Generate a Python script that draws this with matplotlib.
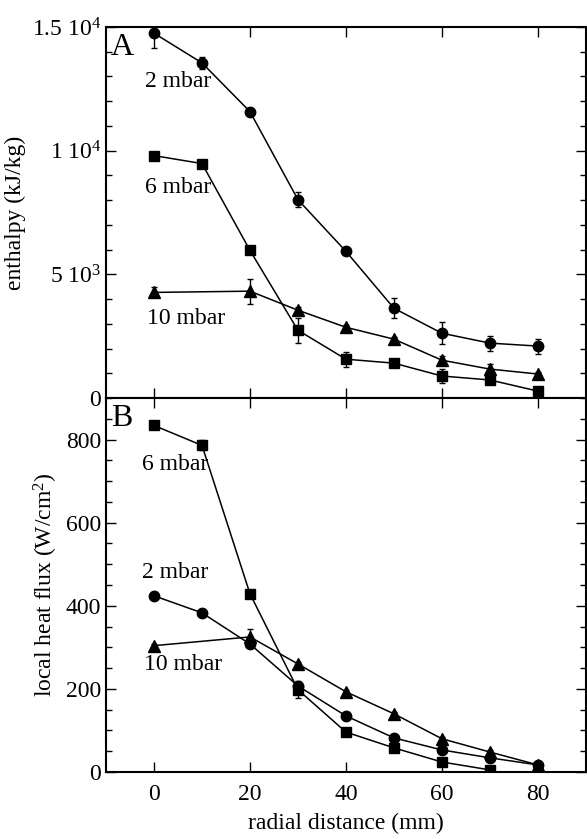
from matplotlib import pyplot as plt
from matplotlib.ticker import MultipleLocator, FixedLocator

# Configure the font
plt.rcParams['font.family'] = ['Liberation Serif', 'DejaVu Serif']
plt.rcParams['mathtext.fontset'] = 'custom'
plt.rcParams['mathtext.rm'] = 'Liberation Serif'
plt.rcParams['mathtext.it'] = 'Liberation Serif:italic'

# radial distance (mm)
x_all = [0, 10, 20, 30, 40, 50, 60, 70, 80]
x_10 = [0, 20, 30, 40, 50, 60, 70, 80]

# panel A: enthalpy (kJ/kg)
h_2 = [14750, 13550, 11580, 8020, 5930, 3630, 2620, 2220, 2100]
h_2_err = [600, 250, 150, 300, 100, 400, 450, 300, 300]
h_6 = [9800, 9480, 5970, 2740, 1570, 1410, 890, 730, 280]
h_6_err = [100, 150, 100, 500, 300, 100, 300, 150, 100]
h_10 = [4270, 4320, 3550, 2860, 2380, 1530, 1170, 970]
h_10_err = [200, 500, 150, 100, 100, 150, 200, 100]

# panel B: local heat flux (W/cm2)
q_2 = [424, 383, 308, 207, 135, 82, 53, 34, 17]
q_2_err = [5, 5, 8, 10, 5, 5, 5, 5, 5]
q_6 = [834, 786, 429, 198, 96, 58, 24, 5]
q_6_err = [5, 12, 8, 20, 5, 5, 5, 5]
q_10 = [304, 325, 260, 193, 140, 80, 48, 17]
q_10_err = [5, 20, 5, 5, 5, 5, 5, 5]

FS = 17


def style_axis(ax):
    for s in ax.spines.values():
        s.set_linewidth(1.5)
    ax.tick_params(which='both', direction='in', top=True, right=True,
                   labelsize=FS, width=1.0)
    ax.tick_params(which='major', length=7)
    ax.tick_params(which='minor', length=4)
    ax.set_xlim(-10, 90)
    ax.xaxis.set_major_locator(FixedLocator([0, 20, 40, 60, 80]))


def series(ax, x, y, err, marker, ms):
    ax.errorbar(x, y, yerr=err, color='black', marker=marker, ms=ms,
                lw=1.1, elinewidth=1.0, capsize=2.5, capthick=1.0)


fig = plt.figure(figsize=(5.87, 8.39), dpi=100)
axA = fig.add_axes([0.1806, 0.5256, 0.8174, 0.4422])
axB = fig.add_axes([0.1806, 0.0799, 0.8174, 0.4457])

# panel A
series(axA, x_all, h_2, h_2_err, 'o', 7.5)
series(axA, x_all, h_6, h_6_err, 's', 7.5)
series(axA, x_10, h_10, h_10_err, '^', 8)
style_axis(axA)
axA.set_ylim(0, 15000)
axA.yaxis.set_major_locator(FixedLocator([0, 5000, 10000, 15000]))
axA.yaxis.set_minor_locator(MultipleLocator(1000))
axA.set_yticklabels(['0', '5 10$^{3}$', '1 10$^{4}$', '1.5 10$^{4}$'])
axA.tick_params(axis='x', labelbottom=False)
axA.set_ylabel('enthalpy (kJ/kg)', fontsize=FS, labelpad=4)
axA.text(0.01, 0.985, 'A', transform=axA.transAxes, fontsize=23,
         va='top', ha='left')
axA.text(-1.8, 12800, '2 mbar', fontsize=FS, va='center')
axA.text(-1.8, 8500, '6 mbar', fontsize=FS, va='center')
axA.text(-1.5, 3200, '10 mbar', fontsize=FS, va='center')

# panel B
series(axB, x_all, q_2, q_2_err, 'o', 7.5)
series(axB, x_all[:8], q_6, q_6_err, 's', 7.5)
series(axB, x_10, q_10, q_10_err, '^', 8)
style_axis(axB)
axB.set_ylim(0, 900)
axB.yaxis.set_major_locator(FixedLocator([0, 200, 400, 600, 800]))
axB.yaxis.set_minor_locator(MultipleLocator(50))
axB.tick_params(axis='x', pad=9)
axB.set_ylabel('local heat flux (W/cm$^{2}$)', fontsize=FS, labelpad=4)
axB.set_xlabel('radial distance (mm)', fontsize=FS, labelpad=5)
axB.text(0.01, 0.985, 'B', transform=axB.transAxes, fontsize=23,
         va='top', ha='left')
axB.text(-2.5, 740, '6 mbar', fontsize=FS, va='center')
axB.text(-2.5, 480, '2 mbar', fontsize=FS, va='center')
axB.text(-2, 258, '10 mbar', fontsize=FS, va='center')

fig.savefig('out.png', dpi=100)
